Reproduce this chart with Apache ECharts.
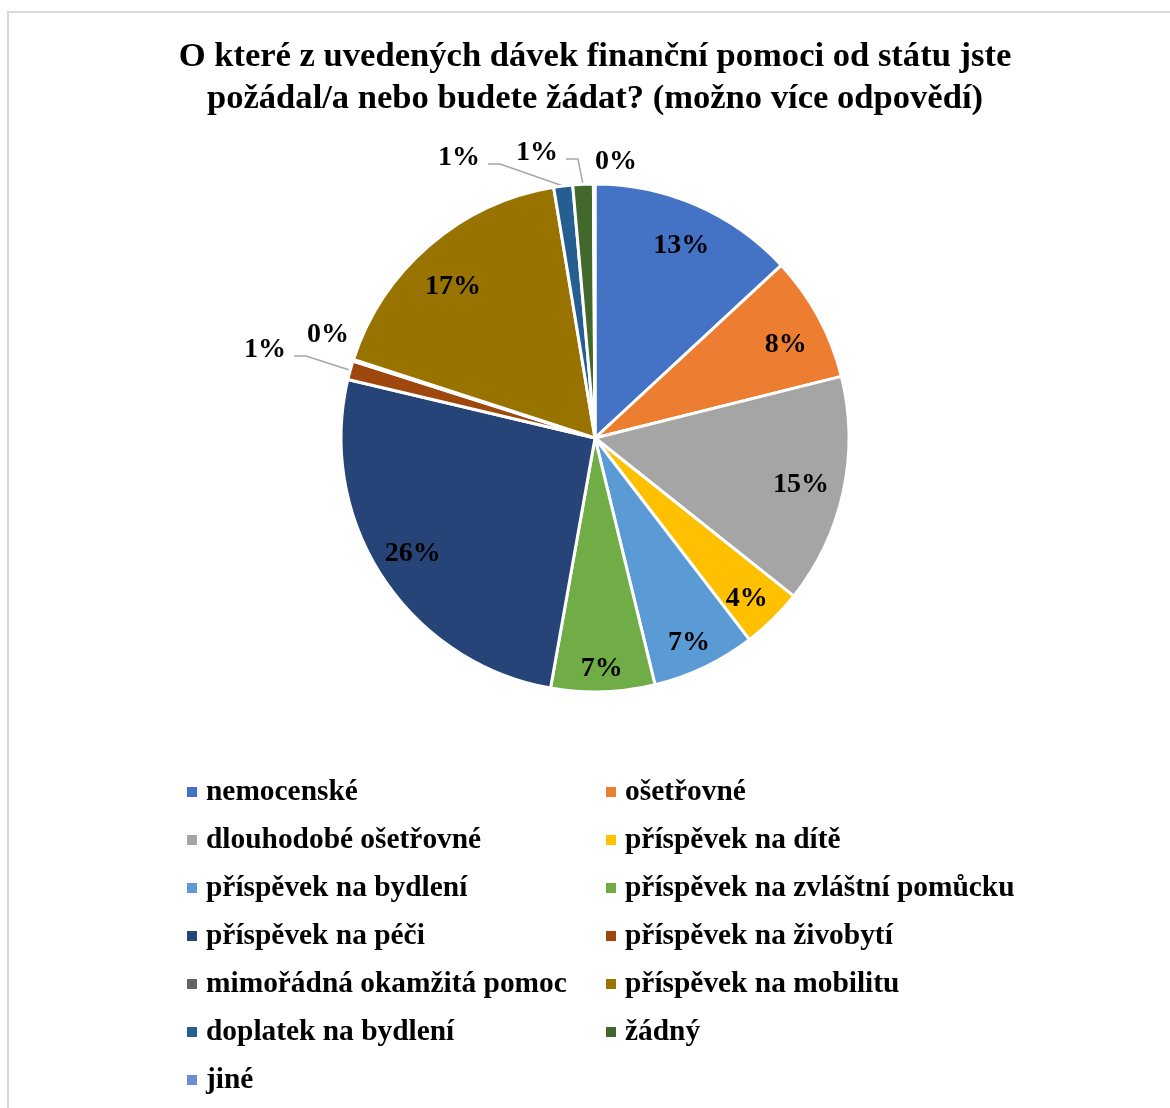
<!DOCTYPE html>
<html>
<head>
<meta charset="utf-8">
<title>Dávky finanční pomoci od státu</title>
<script src="https://cdn.jsdelivr.net/npm/echarts@6/dist/echarts.min.js"></script>
<style>
  html, body { margin: 0; padding: 0; background: #ffffff; }
  #chart { width: 1170px; height: 1108px; }
</style>
</head>
<body>
<div id="chart"></div>
<script>
// Benefits asked for (share of answers, %), clockwise from 12 o'clock
const categories = [
  'nemocenské',
  'ošetřovné',
  'dlouhodobé ošetřovné',
  'příspěvek na dítě',
  'příspěvek na bydlení',
  'příspěvek na zvláštní pomůcku',
  'příspěvek na péči',
  'příspěvek na živobytí',
  'mimořádná okamžitá pomoc',
  'příspěvek na mobilitu',
  'doplatek na bydlení',
  'žádný',
  'jiné'
];
const shares = [13.1, 8.0, 14.6, 3.9, 6.6, 6.6, 25.9, 1.2, 0.1, 17.4, 1.2, 1.3, 0.1];
const colors = [
  '#4472C4', '#ED7D31', '#A5A5A5', '#FFC000', '#5B9BD5', '#70AD47',
  '#264478', '#9E480E', '#636363', '#997300', '#255E91', '#43682B', '#698ED0'
];
const titleLines = [
  'O které z uvedených dávek finanční pomoci od státu jste',
  'požádal/a nebo budete žádat? (možno více odpovědí)'
];

// Legend is laid out in two columns, alternating items
const leftLegend = categories.filter((_, i) => i % 2 === 0);
const rightLegend = categories.filter((_, i) => i % 2 === 1);

const FONT = "'Liberation Serif', 'Times New Roman', serif";
const CENTER = [595, 438];
const RADIUS = 254;
const SMALL = 2; // slices below this share get an outside callout

// Callout placement for the thin slices (label centre, with or without leader line)
const callouts = {
  'příspěvek na živobytí': { x: 265, y: 350, line: true },
  'mimořádná okamžitá pomoc': { x: 328, y: 335, line: false },
  'doplatek na bydlení': { x: 459, y: 158, line: true },
  'žádný': { x: 537, y: 153, line: true },
  'jiné': { x: 616, y: 162, line: false }
};

// Fine nudges of the in-slice percentages [dx, dy]
const insideNudge = {
  'nemocenské': [-1, 8],
  'ošetřovné': [-1, 11],
  'dlouhodobé ošetřovné': [-7, 1],
  'příspěvek na dítě': [-1, 5],
  'příspěvek na bydlení': [0, 8],
  'příspěvek na zvláštní pomůcku': [0, 13],
  'příspěvek na péči': [0, -4],
  'příspěvek na mobilitu': [0, 14]
};

const pctLabel = p => Math.round(p.percent) + '%';
const labelFont = { fontFamily: FONT, fontSize: 28, fontWeight: 'bold', color: '#000' };

const sliceData = categories.map((name, i) => ({
  name,
  value: shares[i],
  itemStyle: { color: colors[i] },
  label: { show: shares[i] < SMALL },
  labelLine: { show: !!(callouts[name] && callouts[name].line) }
}));

// Transparent ring carrying the in-slice percentages a bit toward the rim
const ringData = categories.map((name, i) => ({
  name,
  value: shares[i],
  label: { show: shares[i] >= SMALL, offset: insideNudge[name] || [0, 0] }
}));

const legendBase = {
  orient: 'vertical',
  top: 768,
  bottom: 0,
  padding: 0,
  icon: 'rect',
  itemWidth: 10,
  itemHeight: 10,
  itemGap: 0,
  selectedMode: false,
  itemStyle: { borderWidth: 0 },
  textStyle: {
    fontFamily: FONT, fontSize: 29.4, fontWeight: 'bold', color: '#000',
    lineHeight: 48, padding: [0, 0, 0, 4]
  }
};

const chart = echarts.init(document.getElementById('chart'), null, { renderer: 'canvas' });

chart.setOption({
  backgroundColor: '#ffffff',
  animation: false,
  graphic: [
    {
      type: 'rect',
      shape: { x: 8, y: 12, width: 1400, height: 1400 },
      style: { fill: 'none', stroke: '#d9d9d9', lineWidth: 2 },
      silent: true
    },
    {
      type: 'text',
      x: 595,
      y: 36,
      style: {
        text: titleLines.join('\n'),
        font: 'bold 34.6px ' + FONT,
        fill: '#000',
        align: 'center',
        verticalAlign: 'top',
        lineHeight: 42
      },
      silent: true
    }
  ],
  legend: [
    Object.assign({ left: 187, data: leftLegend }, legendBase),
    Object.assign({ left: 606, data: rightLegend }, legendBase)
  ],
  series: [
    {
      name: 'dávky',
      type: 'pie',
      center: CENTER,
      radius: [0, RADIUS],
      startAngle: 90,
      clockwise: true,
      avoidLabelOverlap: false,
      silent: true,
      itemStyle: { borderColor: '#ffffff', borderWidth: 3 },
      label: Object.assign({ position: 'outside', formatter: pctLabel }, labelFont),
      labelLine: {
        length: 12, length2: 10,
        lineStyle: { color: '#a6a6a6', width: 1.5 }
      },
      labelLayout: function (p) {
        const c = callouts[categories[p.dataIndex]];
        if (!c) return {};
        const out = { x: c.x, y: c.y, align: 'center', verticalAlign: 'middle' };
        if (c.line && p.labelLinePoints) {
          const start = p.labelLinePoints[0];
          const endX = c.x + p.labelRect.width / 2 + 8;
          const lineY = c.y + 6;
          out.labelLinePoints = [start, [endX + 12, lineY], [endX, lineY]];
        }
        return out;
      },
      data: sliceData
    },
    {
      name: 'popisky',
      type: 'pie',
      center: CENTER,
      radius: [176, RADIUS],
      startAngle: 90,
      clockwise: true,
      silent: true,
      avoidLabelOverlap: false,
      legendHoverLink: false,
      itemStyle: { color: 'rgba(0,0,0,0)', borderWidth: 0 },
      emphasis: { disabled: true },
      label: Object.assign({ position: 'inside', formatter: pctLabel }, labelFont),
      labelLine: { show: false },
      data: ringData
    }
  ]
});
</script>
</body>
</html>
